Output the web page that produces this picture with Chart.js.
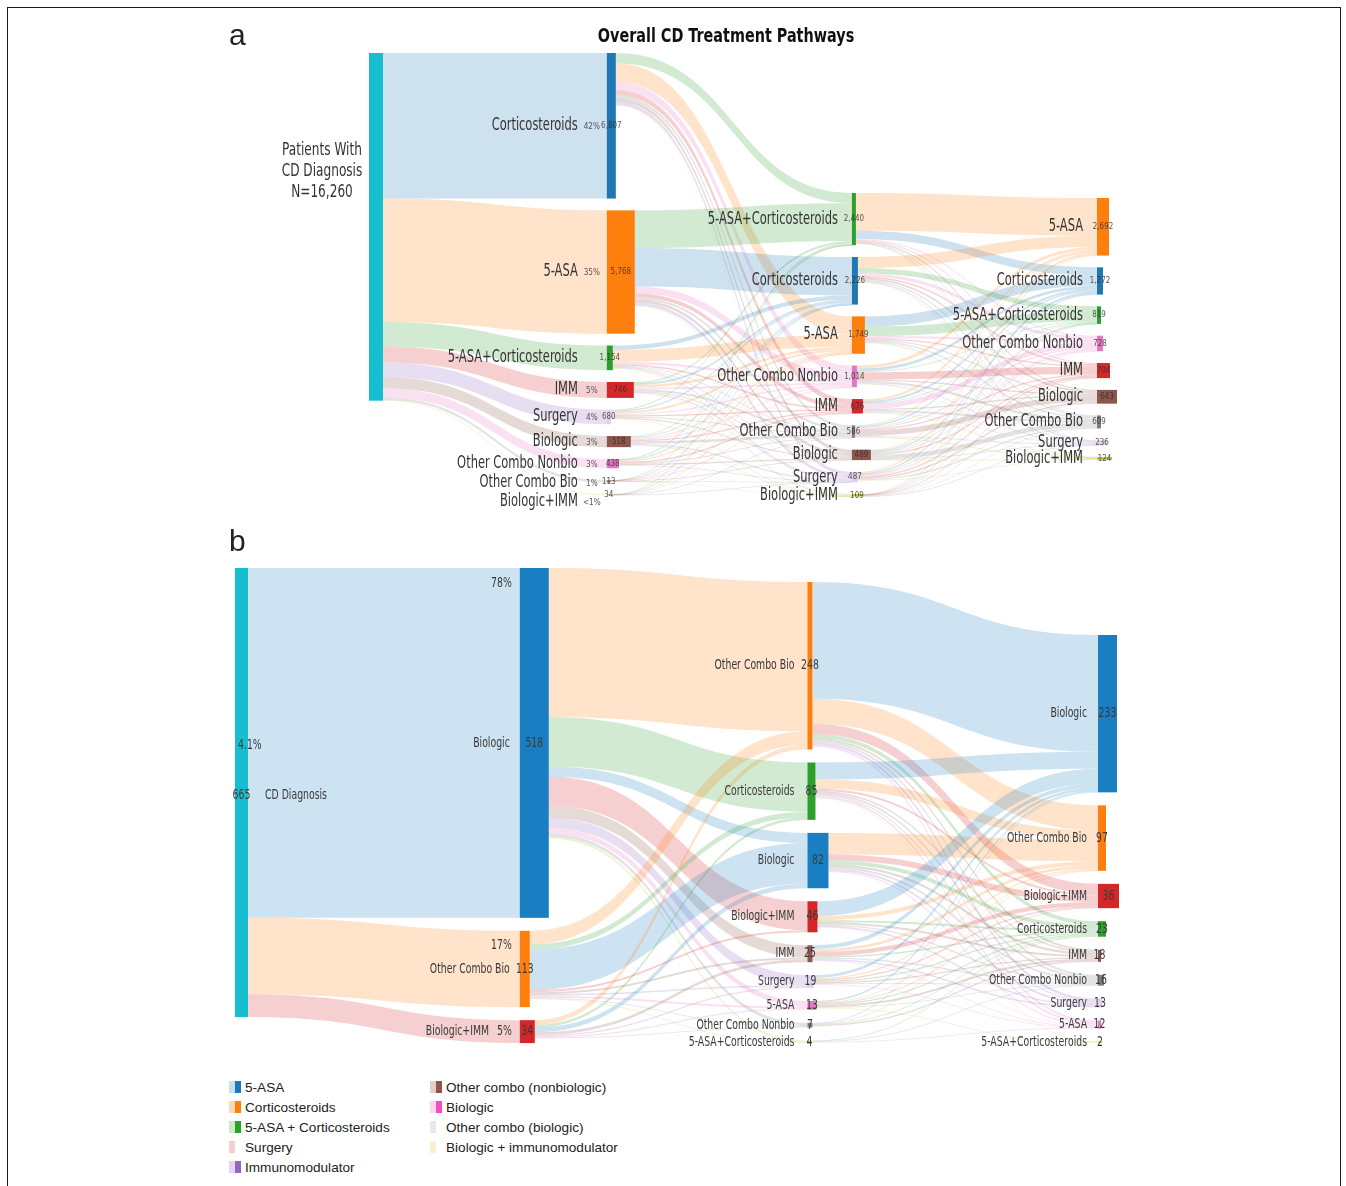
<!DOCTYPE html>
<html lang="en">
<head>
<meta charset="utf-8">
<title>Overall CD Treatment Pathways</title>
<script src="https://cdn.jsdelivr.net/npm/chart.js@4.4.1/dist/chart.umd.min.js"></script>
<style>
  html, body { margin: 0; padding: 0; background: #fff; }
  body { position: relative; width: 1346px; height: 1186px; overflow: hidden; font-family: "Liberation Sans", Arial, sans-serif; color: #222; }
  #frame { position: absolute; left: 7px; top: 7px; width: 1334px; height: 1200px; border: 1px solid #1a1a1a; box-sizing: border-box; }
  canvas { position: absolute; left: 0; }
  #chartA { top: 0; }
  #chartB { top: 520px; }
  .panel { position: absolute; left: 229px; font-size: 30px; line-height: 30px; color: #222; }
  #title { position: absolute; left: 526px; top: 23px; width: 400px; text-align: center; font: bold 20px "Liberation Sans Narrow", "DejaVu Sans Condensed", sans-serif; color: #111; transform: scaleX(0.8); }
  .leg { position: absolute; top: 1078px; font-size: 13.6px; line-height: 20px; color: #222; }
  .leg div { height: 20px; white-space: nowrap; }
  .sw { display: inline-block; width: 12px; height: 12px; vertical-align: -1px; margin-right: 4px; }
</style>
</head>
<body>
<div id="frame"></div>
<canvas id="chartA" width="1346" height="520"></canvas>
<canvas id="chartB" width="1346" height="550"></canvas>
<div class="panel" style="top:20px">a</div>
<div class="panel" style="top:526px">b</div>
<div id="title">Overall CD Treatment Pathways</div>

<div class="leg" style="left:229px">
  <div><span class="sw" style="background:linear-gradient(to right,#c9def0 50%,#1f77b4 50%)"></span>5-ASA</div>
  <div><span class="sw" style="background:linear-gradient(to right,#fdd9b8 50%,#ff7f0e 50%)"></span>Corticosteroids</div>
  <div><span class="sw" style="background:linear-gradient(to right,#cbe8cb 50%,#2ca02c 50%)"></span>5-ASA + Corticosteroids</div>
  <div><span class="sw" style="background:linear-gradient(to right,#f8cfd0 50%,#fff 50%)"></span>Surgery</div>
  <div><span class="sw" style="background:linear-gradient(to right,#e2d5f0 50%,#9467bd 50%)"></span>Immunomodulator</div>
</div>
<div class="leg" style="left:430px">
  <div><span class="sw" style="background:linear-gradient(to right,#e2cfca 50%,#8c564b 50%)"></span>Other combo (nonbiologic)</div>
  <div><span class="sw" style="background:linear-gradient(to right,#fcd6ef 50%,#f04fc4 50%)"></span>Biologic</div>
  <div><span class="sw" style="background:linear-gradient(to right,#e8e8e8 50%,#fff 50%)"></span>Other combo (biologic)</div>
  <div><span class="sw" style="background:linear-gradient(to right,#f3f3cc 50%,#fff 50%)"></span>Biologic + immunomodulator</div>
</div>

<script>
// ---------- Panel a : all CD patients ----------
const rootLabelA = ['Patients With', 'CD Diagnosis', 'N=16,260'];
const rootValueA = 16260;

const line1NamesA = ['Corticosteroids', '5-ASA', '5-ASA+Corticosteroids', 'IMM', 'Surgery', 'Biologic', 'Other Combo Nonbio', 'Other Combo Bio', 'Biologic+IMM'];
const line1ValuesA = [6807, 5768, 1154, 746, 680, 518, 438, 113, 34];
const line1PctA = ['42%', '35%', '', '5%', '4%', '3%', '3%', '1%', '<1%'];

const line2NamesA = ['5-ASA+Corticosteroids', 'Corticosteroids', '5-ASA', 'Other Combo Nonbio', 'IMM', 'Other Combo Bio', 'Biologic', 'Surgery', 'Biologic+IMM'];
const line2ValuesA = [2440, 2226, 1749, 1014, 676, 586, 489, 487, 109];

const line3NamesA = ['5-ASA', 'Corticosteroids', '5-ASA+Corticosteroids', 'Other Combo Nonbio', 'IMM', 'Biologic', 'Other Combo Bio', 'Surgery', 'Biologic+IMM'];
const line3ValuesA = [2692, 1272, 819, 728, 704, 643, 609, 236, 124];

// rows = line 1 treatment, columns = line 2 treatment
const flows12A = [
  [480, 0, 860, 380, 250, 140, 160, 160, 25],
  [1760, 1800, 0, 325, 190, 110, 130, 140, 20],
  [0, 200, 560, 110, 60, 40, 40, 40, 10],
  [60, 80, 120, 80, 0, 90, 40, 40, 30],
  [50, 60, 90, 60, 60, 40, 50, 0, 5],
  [40, 40, 50, 50, 60, 120, 0, 60, 15],
  [40, 40, 60, 0, 50, 40, 50, 40, 0],
  [5, 4, 5, 5, 6, 0, 19, 5, 4],
  [5, 2, 4, 4, 0, 6, 0, 2, 0]
];
// rows = line 2 treatment, columns = line 3 treatment
const flows23A = [
  [1770, 380, 0, 60, 40, 50, 25, 30, 5],
  [520, 0, 240, 140, 70, 80, 60, 50, 15],
  [0, 480, 440, 100, 60, 50, 60, 30, 10],
  [140, 130, 40, 0, 340, 60, 106, 30, 10],
  [100, 90, 30, 240, 0, 60, 80, 30, 20],
  [40, 60, 20, 70, 60, 260, 0, 30, 40],
  [50, 60, 20, 50, 60, 0, 204, 30, 15],
  [60, 60, 25, 60, 60, 60, 60, 0, 9],
  [12, 12, 4, 8, 14, 23, 14, 6, 0]
];

// ---------- Panel b : patients starting on a biologic ----------
const rootNameB = 'CD Diagnosis';
const rootValueB = 665;
const rootPctB = '4.1%';

const line1NamesB = ['Biologic', 'Other Combo Bio', 'Biologic+IMM'];
const line1ValuesB = [518, 113, 34];
const line1PctB = ['78%', '17%', '5%'];

const line2NamesB = ['Other Combo Bio', 'Corticosteroids', 'Biologic', 'Biologic+IMM', 'IMM', 'Surgery', '5-ASA', 'Other Combo Nonbio', '5-ASA+Corticosteroids'];
const line2ValuesB = [248, 85, 82, 46, 25, 19, 13, 7, 4];

const line3NamesB = ['Biologic', 'Other Combo Bio', 'Biologic+IMM', 'Corticosteroids', 'IMM', 'Other Combo Nonbio', 'Surgery', '5-ASA', '5-ASA+Corticosteroids'];
const line3ValuesB = [233, 97, 36, 23, 18, 16, 13, 12, 2];

const flows12B = [
  [221, 73, 15, 43, 18, 15, 8, 5, 3],
  [20, 8, 60, 3, 3, 2, 3, 1, 1],
  [7, 4, 7, 0, 4, 2, 2, 1, 0]
];
const flows23B = [
  [173, 37, 15, 6, 3, 3, 4, 3, 0],
  [25, 14, 3, 0, 2, 3, 2, 3, 1],
  [0, 32, 9, 6, 3, 3, 3, 2, 0],
  [22, 6, 0, 3, 3, 2, 2, 1, 0],
  [6, 4, 6, 2, 0, 2, 2, 1, 0],
  [4, 2, 2, 2, 2, 1, 0, 1, 0],
  [2, 1, 1, 2, 3, 1, 0, 0, 1],
  [1, 1, 0, 1, 2, 0, 0, 0, 0],
  [0, 0, 0, 1, 0, 1, 0, 1, 0]
];

// ---------- styles ----------
const colorsA = {
  'CD Diagnosis': '#17becf', 'Corticosteroids': '#1f77b4', '5-ASA': '#ff7f0e', '5-ASA+Corticosteroids': '#2ca02c',
  'IMM': '#d62728', 'Surgery': '#9467bd', 'Biologic': '#8c564b', 'Other Combo Nonbio': '#e377c2',
  'Other Combo Bio': '#7f7f7f', 'Biologic+IMM': '#bcbd22'
};
const colorsB = {
  'CD Diagnosis': '#17becf', 'Biologic': '#1a7fc2', 'Other Combo Bio': '#ff7f0e', 'Corticosteroids': '#2ca02c',
  'Biologic+IMM': '#d62728', 'Surgery': '#9467bd', 'IMM': '#8c564b', '5-ASA': '#e377c2',
  'Other Combo Nonbio': '#7f7f7f', '5-ASA+Corticosteroids': '#bcbd22'
};
const nodeAlpha = { 'Surgery': 0.3 };

const nodeWidthsA = [[14], [9, 28, 6, 27, 4, 24, 12, 4, 4], [4, 6, 13, 5, 11, 3, 19, 6, 10], [12, 6, 4, 6, 13, 20, 4, 10, 15]];
const nodeWidthsB = [[13], [29, 10, 15], [5, 8, 21, 10, 5, 6, 9, 5, 4], [19, 8, 21, 8, 3, 6, 4, 3, 4]];

const narrow = (px, w) => (w || '') + ' ' + px + 'px "Liberation Sans Narrow", "DejaVu Sans Condensed", "Arial Narrow", sans-serif';
const fmt = v => v.toLocaleString('en-US');

function rgba(hex, a) {
  const n = parseInt(hex.slice(1), 16);
  return 'rgba(' + (n >> 16) + ',' + ((n >> 8) & 255) + ',' + (n & 255) + ',' + a + ')';
}

// text squeezed sideways, to get the tall condensed look of the original
function say(ctx, str, x, y, sx) {
  ctx.save();
  ctx.translate(x, y);
  ctx.scale(sx, 1);
  ctx.fillText(str, 0, 0);
  ctx.restore();
}

// one link: a band bent like a cubic curve between two node edges
function drawBand(ctx, x0, y0, x1, y1, th, color) {
  const xm = (x0 + x1) / 2;
  const t = Math.max(th, 0.7);
  ctx.beginPath();
  ctx.moveTo(x0, y0);
  ctx.bezierCurveTo(xm, y0, xm, y1, x1, y1);
  ctx.lineTo(x1, y1 + t);
  ctx.bezierCurveTo(xm, y1 + t, xm, y0 + t, x0, y0 + t);
  ctx.closePath();
  ctx.fillStyle = color;
  ctx.fill();
}

// keep labels from running into each other
function spread(nodes, minGap) {
  let prev = -Infinity;
  return nodes.map(n => {
    const y = Math.max(n.top + n.h / 2, prev + minGap);
    prev = y;
    return y;
  });
}

// sankey drawn with the chart's own x (stage) and y (patients) scales
function makeSankey(cfg) {
  return {
    id: 'sankey',
    afterDatasetsDraw(chart) {
      const ctx = chart.ctx;
      const xs = chart.scales.x, ys = chart.scales.y;
      const unit = ys.getPixelForValue(1) - ys.getPixelForValue(0);

      const cols = cfg.columns.map((col, c) => {
        const px = xs.getPixelForValue(cfg.colX[c]);
        let v = cfg.colOffset[c] / unit;
        return col.names.map((name, i) => {
          const val = col.values[i];
          const node = { name, val, x: px, w: cfg.widths[c][i], top: ys.getPixelForValue(v), h: Math.max(val * unit, 1) };
          node.outY = node.top;
          node.inY = node.top;
          v += val + cfg.gap / unit;
          return node;
        });
      });

      ctx.save();
      cfg.flows.forEach((m, s) => {
        const src = cols[s], tgt = cols[s + 1];
        m.forEach((row, i) => row.forEach((f, j) => {
          if (!f) return;
          const a = src[i], b = tgt[j], th = f * unit;
          drawBand(ctx, a.x + a.w, a.outY, b.x, b.inY, th, rgba(cfg.colors[b.name], 0.22));
          a.outY += th;
          b.inY += th;
        }));
      });
      cols.forEach(col => col.forEach(n => {
        ctx.fillStyle = rgba(cfg.colors[n.name], nodeAlpha[n.name] || 1);
        ctx.fillRect(n.x, n.top, n.w, n.h);
      }));
      ctx.restore();

      ctx.save();
      ctx.textBaseline = 'middle';
      cfg.labels(ctx, cols);
      ctx.restore();
    }
  };
}

function labelsA(ctx, cols) {
  const root = cols[0][0];
  ctx.fillStyle = '#333';
  ctx.font = narrow(17.5);
  ctx.textAlign = 'center';
  rootLabelA.forEach((t, k) => say(ctx, t, root.x - 47, root.top + 97 + k * 21, 0.77));

  const c1 = cols[1], y1 = spread(c1, 19);
  c1.forEach((n, i) => {
    ctx.textAlign = 'right';
    ctx.font = narrow(17);
    ctx.fillStyle = '#333';
    say(ctx, n.name, n.x - 29, y1[i], 0.75);
    ctx.textAlign = 'center';
    ctx.font = narrow(9);
    ctx.fillStyle = '#555';
    if (line1PctA[i]) say(ctx, line1PctA[i], n.x - 15, y1[i] + 1, 0.9);
    ctx.fillStyle = 'rgba(45,45,45,0.8)';
    say(ctx, fmt(n.val), n.x + n.w / 2, n.top + n.h / 2, 0.88);
  });

  [2, 3].forEach(c => {
    const yl = spread(cols[c], 16);
    cols[c].forEach((n, i) => {
      ctx.textAlign = 'right';
      ctx.font = narrow(17);
      ctx.fillStyle = '#333';
      say(ctx, n.name, n.x - 14, yl[i], 0.75);
      ctx.textAlign = 'center';
      ctx.font = narrow(9);
      ctx.fillStyle = 'rgba(45,45,45,0.8)';
      say(ctx, fmt(n.val), n.x + n.w / 2, n.top + n.h / 2, 0.88);
    });
  });
}

function labelsB(ctx, cols) {
  const sx = 0.74;
  const root = cols[0][0], cy = root.top + root.h / 2;
  ctx.fillStyle = '#3a3a3a';
  ctx.font = narrow(14);
  ctx.textAlign = 'center';
  say(ctx, fmt(root.val), root.x + root.w / 2, cy + 3, sx);
  ctx.textAlign = 'left';
  say(ctx, rootPctB, root.x + 3, cy - 47, sx);
  say(ctx, rootNameB, root.x + 30, cy + 3, sx);

  cols[1].forEach((n, i) => {
    const ny = n.top + n.h / 2;
    const pct = line1PctB[i];
    ctx.textAlign = 'right';
    ctx.font = narrow(14);
    let lx;
    if (n.h > 40) {
      say(ctx, pct, n.x - 8, n.top + 15, sx);
      lx = n.x - 10;
    } else {
      say(ctx, pct, n.x - 8, ny, sx);
      lx = n.x - 16 - ctx.measureText(pct).width * sx;
    }
    say(ctx, n.name, lx, ny, sx);
    ctx.textAlign = 'center';
    say(ctx, fmt(n.val), n.x + n.w / 2, ny, sx);
  });

  [[2, 13], [3, 11]].forEach(([c, off]) => {
    const yl = spread(cols[c], 16);
    cols[c].forEach((n, i) => {
      ctx.textAlign = 'right';
      ctx.font = narrow(14);
      say(ctx, n.name, n.x - off, yl[i], sx);
      ctx.textAlign = 'center';
      say(ctx, fmt(n.val), n.x + n.w / 2, n.top + n.h / 2, sx);
    });
  });
}

function makeChart(id, sankey, padding, yMax) {
  return new Chart(document.getElementById(id), {
    type: 'scatter',
    data: { datasets: [] },
    options: {
      responsive: false,
      animation: false,
      devicePixelRatio: 1,
      layout: { padding },
      scales: {
        x: { type: 'linear', display: false, min: 0, max: 3 },
        y: { type: 'linear', display: false, min: 0, max: yMax, reverse: true }
      },
      plugins: { legend: { display: false }, tooltip: { enabled: false } }
    },
    plugins: [makeSankey(sankey)]
  });
}

makeChart('chartA', {
  columns: [
    { names: ['CD Diagnosis'], values: [rootValueA] },
    { names: line1NamesA, values: line1ValuesA },
    { names: line2NamesA, values: line2ValuesA },
    { names: line3NamesA, values: line3ValuesA }
  ],
  flows: [[line1ValuesA], flows12A, flows23A],
  colors: colorsA,
  widths: nodeWidthsA,
  colX: [0, 0.98, 1.99, 3],
  colOffset: [0, 0, 140, 145],
  gap: 11.8,
  labels: labelsA
}, { left: 369, right: 249, top: 53, bottom: 15 }, rootValueA * 1.3);

makeChart('chartB', {
  columns: [
    { names: [rootNameB], values: [rootValueB] },
    { names: line1NamesB, values: line1ValuesB },
    { names: line2NamesB, values: line2ValuesB },
    { names: line3NamesB, values: line3ValuesB }
  ],
  flows: [[line1ValuesB], flows12B, flows23B],
  colors: colorsB,
  widths: nodeWidthsB,
  colX: [0, 0.99, 1.99, 3],
  colOffset: [0, 0, 14, 67],
  gap: 13,
  labels: labelsB
}, { left: 235, right: 248, top: 48, bottom: 8 }, rootValueB * 1.1);
</script>
</body>
</html>
